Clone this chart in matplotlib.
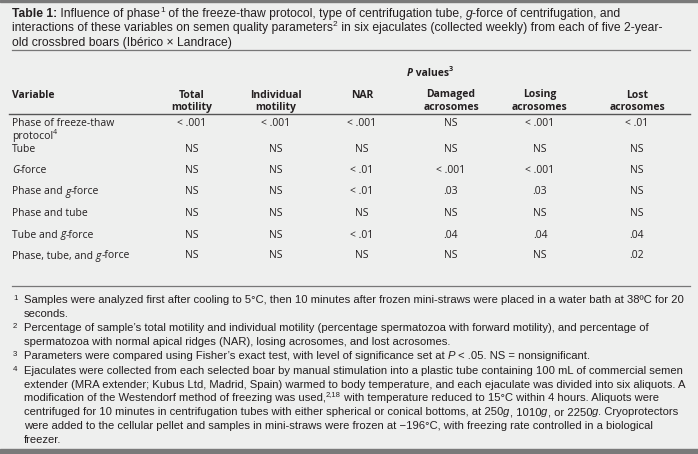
import matplotlib.pyplot as plt
from matplotlib.lines import Line2D
from matplotlib.patches import Rectangle

# ---- table content ----
title_lines = [
    "~Table 1:~ Influence of phase^1^ of the freeze-thaw protocol, type of centrifugation tube, *g*-force of centrifugation, and",
    "interactions of these variables on semen quality parameters^2^ in six ejaculates (collected weekly) from each of five 2-year-",
    "old crossbred boars (Ibérico × Landrace)",
]
group_label = "*P* values^3^"
columns = ["Total\nmotility", "Individual\nmotility", "NAR", "Damaged\nacrosomes", "Losing\nacrosomes", "Lost\nacrosomes"]
variables = ["Phase of freeze-thaw\nprotocol^4^", "Tube", "*G*-force", "Phase and *g*-force",
             "Phase and tube", "Tube and *g*-force", "Phase, tube, and *g*-force"]
total_motility = ["< .001", "NS", "NS", "NS", "NS", "NS", "NS"]
individual_motility = ["< .001", "NS", "NS", "NS", "NS", "NS", "NS"]
nar = ["< .001", "NS", "< .01", "< .01", "NS", "< .01", "NS"]
damaged = ["NS", "NS", "< .001", ".03", "NS", ".04", "NS"]
losing = ["< .001", "NS", "< .001", ".03", "NS", ".04", "NS"]
lost = ["< .01", "NS", "NS", "NS", "NS", ".04", ".02"]
footnotes = [
    ["Samples were analyzed first after cooling to 5°C, then 10 minutes after frozen mini-straws were placed in a water bath at 38ºC for 20",
     "seconds."],
    ["Percentage of sample’s total motility and individual motility (percentage spermatozoa with forward motility), and percentage of",
     "spermatozoa with normal apical ridges (NAR), losing acrosomes, and lost acrosomes."],
    ["Parameters were compared using Fisher’s exact test, with level of significance set at *P* < .05. NS = nonsignificant."],
    ["Ejaculates were collected from each selected boar by manual stimulation into a plastic tube containing 100 mL of commercial semen",
     "extender (MRA extender; Kubus Ltd, Madrid, Spain) warmed to body temperature, and each ejaculate was divided into six aliquots. A",
     "modification of the Westendorf method of freezing was used,^2,18^ with temperature reduced to 15°C within 4 hours. Aliquots were",
     "centrifuged for 10 minutes in centrifugation tubes with either spherical or conical bottoms, at 250*g*, 1010*g*, or 2250*g*. Cryoprotectors",
     "were added to the cellular pellet and samples in mini-straws were frozen at −196°C, with freezing rate controlled in a biological",
     "freezer."],
]

W, H = 698, 454
INK = '#231f20'
fig = plt.figure(figsize=(W / 100, H / 100), dpi=100)
fig.patch.set_facecolor('#eeefee')
r = fig.canvas.get_renderer()

NOTE_FONT = ['Liberation Sans', 'DejaVu Sans']
TAB_FONT = ['Open Sans', 'DejaVu Sans']


def parse(s):
    out, cur, st = [], '', set()
    for ch in s:
        if ch in '*~^':
            if cur:
                out.append((cur, frozenset(st)))
            cur = ''
            st ^= {ch}
        else:
            cur += ch
    if cur:
        out.append((cur, frozenset(st)))
    return out


def style(st, size, family):
    return dict(fontsize=size * 0.68 if '^' in st else size, family=family,
                fontweight='bold' if '~' in st else 'normal',
                fontstyle='italic' if '*' in st else 'normal')


def width(p, st, size, family):
    kw = style(st, size, family)
    a = fig.text(0, 0, 'x' + p + 'x', **kw)
    b = fig.text(0, 0, 'xx', **kw)
    w = a.get_window_extent(r).width - b.get_window_extent(r).width
    a.remove()
    b.remove()
    return w


def draw(x, y, s, size, family, ha='left', bold=False):
    if bold:
        s = '~' + s + '~'
    parts = parse(s)
    ws = [width(p, st, size, family) for p, st in parts]
    if ha == 'center':
        x -= sum(ws) / 2
    for (p, st), w in zip(parts, ws):
        dy = size * 0.45 * 100 / 72 if '^' in st else 0
        fig.text(x / W, 1 - (y - dy) / H, p, va='baseline', ha='left', color=INK, **style(st, size, family))
        x += w


def fit(s, target, family):
    t = fig.text(0, 0, s.replace('*', '').replace('~', '').replace('^', ''), fontsize=10, family=family)
    w = t.get_window_extent(r).width
    t.remove()
    return 10 * target / w


def hline(y, x0=12, x1=690, color='#777777', lw=0.9):
    fig.add_artist(Line2D([x0 / W, x1 / W], [1 - y / H] * 2, transform=fig.transFigure, color=color, lw=lw))


# frame
fig.add_artist(Rectangle((0, 1 - 2 / H), 1, 2 / H, transform=fig.transFigure, color='#7a7a7a'))
fig.add_artist(Rectangle((0, 0), 1, 5 / H, transform=fig.transFigure, color='#7a7a7a'))

# title
tsize = fit(title_lines[0], 610, NOTE_FONT)
for i, line in enumerate(title_lines):
    draw(12, 17 + i * 14.5, line, tsize, NOTE_FONT)
hline(49.5)

# header
ts = 7.5
col_x = [192, 276, 362, 451, 540, 637]
draw(430, 76, group_label, ts, TAB_FONT, ha='center', bold=True)
draw(12, 97.5, "Variable", ts, TAB_FONT, bold=True)
for cx, name in zip(col_x, columns):
    for j, part in enumerate(name.split('\n')):
        draw(cx, 97.5 + j * 12.5, part, ts, TAB_FONT, ha='center', bold=True)
hline(113.5, 9, 690, color='#555555', lw=1.0)

# body
row_y = [125.5, 152.5, 173.5, 194.5, 216, 237.5, 258.5]
cols = [total_motility, individual_motility, nar, damaged, losing, lost]
for i, (y, var) in enumerate(zip(row_y, variables)):
    for j, part in enumerate(var.split('\n')):
        draw(12, y + j * 13, part, ts, TAB_FONT)
    for cx, col in zip(col_x, cols):
        draw(cx, y, col[i], ts, TAB_FONT, ha='center')
hline(286)

# footnotes
fsize = fit(footnotes[3][0], 664, NOTE_FONT)
y = 303
for k, note in enumerate(footnotes):
    draw(13, y - 3, str(k + 1), fsize * 0.7, NOTE_FONT)
    for line in note:
        draw(24, y, line, fsize, NOTE_FONT)
        y += 13.8
    y += 0.6

fig.savefig('out.png', dpi=100, facecolor=fig.get_facecolor())
